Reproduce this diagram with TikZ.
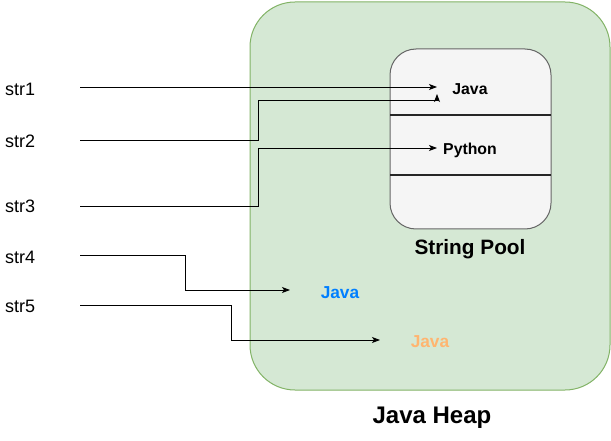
\documentclass[tikz,border=0pt]{standalone}
\usepackage{fontspec}
\setmainfont{Liberation Sans}
\usetikzlibrary{arrows.meta}
\definecolor{heapfill}{HTML}{D5E8D4}
\definecolor{heapline}{HTML}{82B366}
\definecolor{poolfill}{HTML}{F5F5F5}
\definecolor{poolline}{HTML}{666666}
\definecolor{javablue}{HTML}{007FFF}
\definecolor{javaorange}{HTML}{FFB570}
\tikzset{
  strlabel/.style={anchor=west, inner sep=0pt, font=\fontsize{18}{20}\selectfont},
  pooltext/.style={inner sep=0pt, font=\bfseries\fontsize{15.8}{18}\selectfont},
  heaptext/.style={inner sep=0pt, font=\bfseries\fontsize{17.3}{19}\selectfont},
  conn/.style={line width=0.9pt, -{Stealth[length=8pt,width=6pt,inset=2pt]}},
}
\begin{document}
\begin{tikzpicture}[x=1pt,y=-1pt]
\useasboundingbox (0,0) rectangle (611,441);
% heap
\draw[fill=heapfill, draw=heapline, line width=1pt, rounded corners=45pt] (250,2) rectangle (610,390);
\node[inner sep=0pt, font=\bfseries\fontsize{24}{27}\selectfont] (heap) at (432,418) {Java Heap};
% pool
\draw[fill=poolfill, draw=poolline, line width=1pt, rounded corners=26pt] (390,49) rectangle (551,229);
\draw[line width=1.6pt, black!85] (390,115) -- (551,115);
\draw[line width=1.6pt, black!85] (390,175) -- (551,175);
\node[inner sep=0pt, font=\bfseries\fontsize{20.8}{23}\selectfont] (pool) at (470,249) {String Pool};
\node[pooltext] (pjava) at (470,89) {Java};
\node[pooltext] (python) at (470,150) {Python};
% heap strings
\node[heaptext, text=javablue] (hjava1) at (340,293) {Java};
\node[heaptext, text=javaorange] (hjava2) at (430,342) {Java};
% str labels
\node[strlabel] (str1) at (5,89) {str1};
\node[strlabel] (str2) at (5,141) {str2};
\node[strlabel] (str3) at (5,206) {str3};
\node[strlabel] (str4) at (5,257) {str4};
\node[strlabel] (str5) at (5,306) {str5};
% connector endpoints
\coordinate (s1) at (80,87);
\coordinate (s2) at (80,140);
\coordinate (s3) at (80,206);
\coordinate (s4) at (80,255);
\coordinate (s5) at (80,305);
\coordinate (t1) at (437,87);
\coordinate (t2) at (437,94);
\coordinate (t3) at (437,148);
\coordinate (t4) at (290,290);
\coordinate (t5) at (380,340);
% connectors
\draw[conn] (s1) -- (t1);
\draw[conn] (s2) -- (258,140) -- (258,100) -- (437,100) -- (t2);
\draw[conn] (s3) -- (258,206) -- (258,148) -- (t3);
\draw[conn] (s4) -- (185,255) -- (185,290) -- (t4);
\draw[conn] (s5) -- (231,305) -- (231,340) -- (t5);
\end{tikzpicture}
\end{document}
